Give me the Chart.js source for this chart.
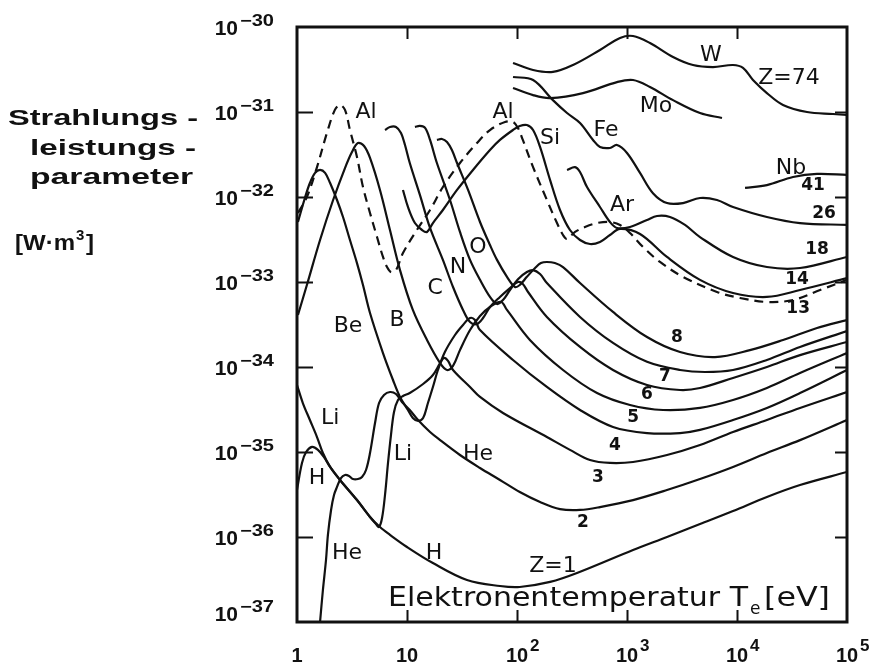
<!DOCTYPE html>
<html>
<head>
<meta charset="utf-8">
<script src="https://cdn.jsdelivr.net/npm/chart.js@4.4.1/dist/chart.umd.min.js"></script>
<style>
  html, body { margin: 0; padding: 0; background: #ffffff; }
  canvas { display: block; }
</style>
</head>
<body>
<canvas id="chart" width="877" height="664"></canvas>
<script>
// Radiation power parameter P (W·m³) versus electron temperature Te (eV)
// for coronal-equilibrium impurities, log-log axes.

// Z = 1, hydrogen
const hT = [1.0, 1.11, 1.21, 1.37, 1.55, 1.76, 2.0, 2.46, 3.51, 4.61, 5.68, 7.0, 10, 17.2, 35.1, 70, 106, 200, 351, 1135, 2310, 4610, 9200, 18700, 37400, 1e5];
const hP = [3.6e-36, 7.43e-36, 1.0e-35, 1.15e-35, 1.06e-35, 8.73e-36, 6.67e-36, 4.69e-36, 2.72e-36, 1.72e-36, 1.31e-36, 1.06e-36, 7.63e-37, 4.94e-37, 3.12e-37, 2.65e-37, 2.58e-37, 2.96e-37, 3.77e-37, 7.03e-37, 1.0e-36, 1.42e-36, 2.02e-36, 2.96e-36, 4.09e-36, 5.82e-36];

// Z = 2, helium
const heT = [1.62, 1.72, 1.835, 1.91, 2.04, 2.17, 2.31, 2.51, 2.73, 2.97, 3.23, 3.58, 3.90, 4.24, 4.61, 5.12, 5.57, 6.18, 7.0, 7.94, 9.0, 10.6, 12.6, 16.2, 20, 30.3, 46.1, 70, 106, 162, 246, 374, 568, 1135, 2310, 4610, 9200, 18700, 37400, 1e5];
const heP = [1.0e-37, 2.38e-37, 5.36e-37, 1.06e-36, 2.08e-36, 3.12e-36, 3.88e-36, 4.94e-36, 5.36e-36, 5.22e-36, 4.81e-36, 4.81e-36, 5.08e-36, 6.14e-36, 9.73e-36, 2.19e-35, 3.77e-35, 4.69e-35, 5.08e-35, 4.81e-35, 3.88e-35, 3.12e-35, 2.38e-35, 1.72e-35, 1.38e-35, 9.22e-36, 6.49e-36, 4.69e-36, 3.38e-36, 2.58e-36, 2.13e-36, 2.08e-36, 2.25e-36, 2.72e-36, 3.57e-36, 4.81e-36, 6.67e-36, 9.73e-36, 1.38e-35, 2.38e-35];

// Z = 3, lithium
const liT = [1.0, 1.13, 1.31, 1.52, 1.72, 2.0, 2.46, 3.51, 4.61, 5.23, 5.57, 5.93, 6.31, 6.72, 7.15, 7.62, 8.28, 9.19, 10.6, 14.0, 17.2, 20.0, 21.7, 23.6, 26.2, 37.4, 46.1, 74.6, 187, 303, 461, 700, 1135, 2310, 4610, 9200, 18700, 37400, 1e5];
const liP = [6.14e-35, 3.77e-35, 2.38e-35, 1.50e-35, 9.73e-36, 6.67e-36, 4.69e-36, 2.72e-36, 1.72e-36, 1.42e-36, 1.31e-36, 1.67e-36, 3.12e-36, 7.43e-36, 1.58e-35, 2.96e-35, 4.09e-35, 4.56e-35, 4.94e-35, 6.31e-35, 8.05e-35, 1.11e-34, 1.28e-34, 1.18e-34, 9.22e-35, 5.82e-35, 4.44e-35, 2.88e-35, 1.50e-35, 1.06e-35, 8.05e-36, 7.43e-36, 7.63e-36, 9.22e-36, 1.21e-35, 1.72e-35, 2.38e-35, 3.30e-35, 5.08e-35];

// Z = 4, beryllium
const beT = [1.02, 1.18, 1.31, 1.46, 1.62, 1.80, 2.0, 2.31, 2.62, 3.03, 3.51, 3.98, 4.61, 6.05, 7.46, 8.64, 10.2, 11.3, 12.6, 14.0, 15.5, 17.2, 19.1, 22.1, 27.3, 32.3, 37.4, 41.5, 46.1, 92, 187, 374, 746, 1520, 3034, 4610, 9200, 18700, 37400, 1e5];
const beP = [5.08e-33, 9.73e-33, 1.46e-32, 1.92e-32, 2.08e-32, 1.92e-32, 1.46e-32, 9.22e-33, 5.82e-33, 3.12e-33, 1.67e-33, 9.22e-34, 4.32e-34, 1.46e-34, 7.03e-35, 4.44e-35, 3.12e-35, 2.51e-35, 2.32e-35, 2.51e-35, 3.77e-35, 5.82e-35, 9.22e-35, 1.50e-34, 2.38e-34, 3.12e-34, 3.77e-34, 3.57e-34, 2.72e-34, 1.21e-34, 5.82e-35, 3.12e-35, 1.97e-35, 1.67e-35, 1.67e-35, 1.82e-35, 2.38e-35, 3.30e-35, 4.94e-35, 9.22e-35];

// Z = 5, boron
const bT = [1.02, 1.23, 1.62, 2.13, 2.73, 3.16, 3.58, 4.07, 4.61, 5.68, 7.0, 8.64, 11.3, 15.2, 20.0, 23.1, 26.2, 30.3, 37.4, 46.1, 56.8, 71.6, 81.1, 131, 262, 534, 1065, 2124, 4610, 9200, 18700, 37400, 1e5];
const bP = [4.09e-34, 9.22e-34, 3.12e-33, 9.22e-33, 2.19e-32, 3.38e-32, 4.32e-32, 3.98e-32, 2.88e-32, 1.21e-32, 4.09e-33, 1.38e-33, 4.69e-34, 2.08e-34, 1.11e-34, 9.22e-35, 1.03e-34, 1.58e-34, 2.72e-34, 3.98e-34, 5.08e-34, 5.82e-34, 4.69e-34, 2.08e-34, 9.22e-35, 4.94e-35, 3.57e-35, 3.12e-35, 3.30e-35, 4.09e-35, 5.66e-35, 8.49e-35, 1.46e-34];

// Z = 6, carbon
const cT = [6.31, 7.0, 7.94, 8.82, 9.59, 10.6, 13.1, 16.2, 21.2, 26.2, 32.3, 37.4, 43.3, 49.1, 56.8, 70, 86.3, 102, 113, 126, 187, 374, 746, 1520, 3034, 4610, 9200, 18700, 37400, 1e5];
const cP = [6.14e-32, 6.67e-32, 6.67e-32, 5.66e-32, 4.09e-32, 2.51e-32, 1.06e-32, 4.32e-33, 1.82e-33, 8.73e-34, 4.69e-34, 3.38e-34, 3.21e-34, 3.77e-34, 5.08e-34, 6.67e-34, 8.49e-34, 1.0e-33, 9.47e-34, 7.63e-34, 3.88e-34, 1.72e-34, 9.22e-35, 6.14e-35, 5.36e-35, 5.66e-35, 7.43e-35, 1.0e-34, 1.38e-34, 1.97e-34];

// Z = 7, nitrogen
const nT = [11.8, 13.1, 14.6, 16.2, 18.7, 24.6, 30.3, 37.4, 46.1, 56.8, 65.8, 74.6, 86.3, 102, 123, 140, 162, 187, 374, 746, 1520, 3034, 5117, 9200, 18700, 37400, 1e5];
const nP = [6.67e-32, 6.85e-32, 6.49e-32, 4.69e-32, 2.51e-32, 9.22e-33, 3.88e-33, 1.82e-33, 1.06e-33, 6.67e-34, 5.51e-34, 6.14e-34, 8.05e-34, 1.08e-33, 1.31e-33, 1.38e-33, 1.24e-33, 9.73e-34, 3.88e-34, 1.92e-34, 1.15e-34, 9.22e-35, 8.73e-35, 9.22e-35, 1.21e-34, 1.72e-34, 2.65e-34];

// Z = 8, oxygen
const oT = [18.7, 20.8, 23.1, 25.6, 28.5, 35.9, 46.1, 56.8, 65.8, 81.1, 95.9, 106, 123, 146, 165, 187, 221, 262, 374, 746, 1520, 3034, 6310, 13100, 26200, 53400, 1e5];
const oP = [4.69e-32, 4.81e-32, 4.44e-32, 3.57e-32, 2.51e-32, 1.21e-32, 5.08e-33, 2.72e-33, 1.82e-33, 1.15e-33, 8.73e-34, 9.22e-34, 1.15e-33, 1.46e-33, 1.67e-33, 1.72e-33, 1.67e-33, 1.50e-33, 9.73e-34, 4.44e-34, 2.25e-34, 1.50e-34, 1.31e-34, 1.58e-34, 2.08e-34, 2.88e-34, 3.57e-34];

// Z = 13, aluminium (dashed)
const alT = [1.02, 1.23, 1.52, 1.87, 2.21, 2.46, 2.73, 3.03, 3.51, 3.98, 4.61, 5.34, 6.05, 6.58, 7.15, 7.94, 9.19, 12.3, 16.2, 21.2, 30.3, 43.3, 56.8, 77.8, 92, 102, 113, 140, 187, 231, 262, 285, 337, 415, 534, 700, 864, 1065, 1398, 1995, 3230, 6577, 10650, 18700, 32300, 56900, 1e5];
const alP = [6.49e-33, 1.0e-32, 2.25e-32, 5.66e-32, 1.06e-31, 1.21e-31, 1.06e-31, 6.14e-32, 2.96e-32, 1.31e-32, 6.49e-33, 3.38e-33, 1.97e-33, 1.50e-33, 1.31e-33, 1.38e-33, 2.19e-33, 4.09e-33, 7.03e-33, 1.31e-32, 2.51e-32, 4.32e-32, 6.14e-32, 7.63e-32, 7.63e-32, 6.49e-32, 4.69e-32, 2.25e-32, 9.22e-33, 4.94e-33, 3.57e-33, 3.21e-33, 3.88e-33, 4.44e-33, 4.94e-33, 5.08e-33, 4.69e-33, 3.77e-33, 2.58e-33, 1.72e-33, 1.15e-33, 7.63e-34, 6.49e-34, 5.82e-34, 6.14e-34, 8.05e-34, 1.06e-33];

// Z = 14, silicon
const siT = [9.19, 10.2, 11.8, 13.7, 15.2, 17.2, 21.2, 28.5, 39.8, 56.8, 70, 92, 106, 123, 140, 162, 200, 246, 303, 374, 461, 568, 700, 864, 1313, 2310, 4610, 9200, 18700, 37400, 1e5];
const siP = [1.21e-32, 7.63e-33, 4.94e-33, 4.09e-33, 3.88e-33, 4.94e-33, 7.03e-33, 1.21e-32, 2.08e-32, 3.57e-32, 4.69e-32, 6.14e-32, 6.85e-32, 7.03e-32, 6.14e-32, 3.88e-32, 1.58e-32, 7.03e-33, 4.09e-33, 3.12e-33, 2.80e-33, 2.96e-33, 3.57e-33, 4.21e-33, 3.67e-33, 1.97e-33, 1.06e-33, 7.43e-34, 6.67e-34, 8.05e-34, 1.11e-33];

// Z = 18, argon
const arT = [285, 337, 374, 433, 568, 700, 811, 1065, 1520, 1875, 2460, 3367, 4610, 9200, 18700, 37400, 1e5];
const arP = [2.08e-32, 2.25e-32, 1.97e-32, 1.31e-32, 7.63e-33, 5.08e-33, 4.32e-33, 4.44e-33, 5.36e-33, 5.98e-33, 5.82e-33, 4.69e-33, 3.38e-33, 1.97e-33, 1.50e-33, 1.46e-33, 1.97e-33];

// Z = 26, iron
const feT = [92, 140, 212, 285, 374, 491, 568, 700, 811, 1000, 1313, 1722, 2310, 3230, 4610, 6577, 9200, 18700, 37400, 1e5];
const feP = [2.58e-31, 2.38e-31, 1.38e-31, 9.73e-32, 7.43e-32, 4.69e-32, 3.88e-32, 3.77e-32, 4.09e-32, 3.30e-32, 1.92e-32, 1.11e-32, 8.49e-33, 8.49e-33, 9.73e-33, 9.22e-33, 7.63e-33, 5.82e-33, 4.94e-33, 4.69e-33];

// Z = 41, niobium
const nbT = [11830, 18700, 32300, 53400, 1e5];
const nbP = [1.28e-32, 1.38e-32, 1.72e-32, 1.87e-32, 1.82e-32];

// Z = 42, molybdenum
const moT = [92, 140, 200, 398, 811, 1135, 1618, 2620, 4610, 7305];
const moP = [1.92e-31, 1.58e-31, 1.46e-31, 1.67e-31, 2.25e-31, 2.38e-31, 1.97e-31, 1.38e-31, 9.73e-32, 8.49e-32];

// Z = 74, tungsten
const wT = [92, 140, 212, 323, 568, 864, 1135, 1618, 2620, 3981, 6050, 9200, 11340, 13970, 18700, 26200, 43300, 74600, 1e5];
const wP = [3.77e-31, 3.12e-31, 2.96e-31, 3.57e-31, 5.36e-31, 7.43e-31, 7.83e-31, 6.48e-31, 4.44e-31, 3.57e-31, 3.38e-31, 3.57e-31, 3.30e-31, 2.38e-31, 1.67e-31, 1.21e-31, 1.0e-31, 9.47e-32, 9.22e-32];

// Axis decades and their tick labels (base, exponent)
const xDecades = [1, 10, 100, 1e3, 1e4, 1e5];
const xTickLabels = [['1', ''], ['10', ''], ['10', '2'], ['10', '3'], ['10', '4'], ['10', '5']];
const yDecades = [1e-30, 1e-31, 1e-32, 1e-33, 1e-34, 1e-35, 1e-36, 1e-37];
const yTickLabels = [['10', '−30'], ['10', '−31'], ['10', '−32'], ['10', '−33'], ['10', '−34'], ['10', '−35'], ['10', '−36'], ['10', '−37']];

// Curve annotations: text, temperature, power, kind
const curveLabelText = ['Al', 'Al', 'Si', 'Fe', 'Mo', 'W', 'Z=74', 'Nb', '41', '26', 'Ar', '18', '14', '13', '8', '7', '6', '5', '4', '3', '2', 'Z=1', 'H', 'He', 'H', 'Li', 'Li', 'He', 'Be', 'B', 'C', 'N', 'O'];
const curveLabelT = [4.24, 74.6, 200, 644, 1835, 5800, 29700, 31000, 49100, 61800, 901, 53400, 35100, 36000, 2850, 2215, 1520, 1135, 778, 545, 398, 212, 17.6, 2.85, 1.52, 2.0, 9.19, 44.2, 2.91, 8.11, 18.0, 29.1, 44.2];
const curveLabelP = [1e-31, 1e-31, 4.94e-32, 6.14e-32, 1.18e-31, 4.69e-31, 2.51e-31, 2.19e-32, 1.38e-32, 6.31e-33, 8.05e-33, 2.38e-33, 1.08e-33, 4.81e-34, 2.19e-34, 7.63e-35, 4.69e-35, 2.51e-35, 1.18e-35, 4.94e-36, 1.46e-36, 4.56e-37, 6.49e-37, 6.49e-37, 4.94e-36, 2.51e-35, 9.47e-36, 9.47e-36, 3.04e-34, 3.57e-34, 8.49e-34, 1.50e-33, 2.58e-33];
const curveLabelKind = ['el', 'el', 'el', 'el', 'el', 'el', 'el', 'el', 'num', 'num', 'el', 'num', 'num', 'num', 'num', 'num', 'num', 'num', 'num', 'num', 'num', 'el', 'el', 'el', 'el', 'el', 'el', 'el', 'el', 'el', 'el', 'el', 'el'];

const INK = '#111111';

function points(ts, ps) {
  return ts.map((t, i) => ({ x: t, y: ps[i] }));
}

function curve(ts, ps, dashed) {
  return {
    data: points(ts, ps),
    borderColor: INK,
    borderWidth: 2.2,
    borderDash: dashed ? [9, 6] : [],
    pointRadius: 0,
    fill: false,
    tension: 0.35
  };
}

const datasets = [
  curve(hT, hP), curve(heT, heP), curve(liT, liP), curve(beT, beP),
  curve(bT, bP), curve(cT, cP), curve(nT, nP), curve(oT, oP),
  curve(alT, alP, true), curve(siT, siP), curve(arT, arP), curve(feT, feP),
  curve(nbT, nbP), curve(moT, moP), curve(wT, wP)
];

// Draws text squeezed or stretched horizontally to a given width
function fitText(ctx, text, left, baseline, width, font) {
  ctx.font = font;
  const w = ctx.measureText(text).width;
  ctx.save();
  ctx.translate(left, baseline);
  ctx.scale(width / w, 1);
  ctx.textAlign = 'left';
  ctx.textBaseline = 'alphabetic';
  ctx.fillText(text, 0, 0);
  ctx.restore();
}

const paperPlugin = {
  id: 'paper',
  beforeDraw(chart) {
    const { ctx, width, height } = chart;
    ctx.save();
    ctx.fillStyle = '#ffffff';
    ctx.fillRect(0, 0, width, height);
    ctx.restore();
  },
  afterDatasetsDraw(chart) {
    const { ctx, chartArea: { left, right, top, bottom }, scales: { x, y } } = chart;
    ctx.save();
    ctx.strokeStyle = INK;
    ctx.fillStyle = INK;

    // frame
    ctx.lineWidth = 3;
    ctx.strokeRect(left, top, right - left, bottom - top);

    // inward ticks
    ctx.lineWidth = 2;
    ctx.beginPath();
    xDecades.slice(1, -1).forEach(v => {
      const px = Math.round(x.getPixelForValue(v)) + 0.5;
      ctx.moveTo(px, bottom); ctx.lineTo(px, bottom - 12);
      ctx.moveTo(px, top); ctx.lineTo(px, top + 12);
    });
    yDecades.slice(1, -1).forEach(v => {
      const py = Math.round(y.getPixelForValue(v)) + 0.5;
      ctx.moveTo(left, py); ctx.lineTo(left + 16, py);
      ctx.moveTo(right, py); ctx.lineTo(right - 12, py);
    });
    ctx.stroke();

    // y tick labels
    yDecades.forEach((v, i) => {
      const py = y.getPixelForValue(v);
      const base = i === yDecades.length - 1 ? py - 1 : py + 8;
      ctx.font = 'bold 21px "Liberation Sans", Arial, sans-serif';
      ctx.textAlign = 'right';
      ctx.textBaseline = 'alphabetic';
      ctx.fillText(yTickLabels[i][0], 238, base);
      fitText(ctx, yTickLabels[i][1], 240, base - 9, 34, 'bold 16px "Liberation Sans", Arial, sans-serif');
    });

    // x tick labels
    xDecades.forEach((v, i) => {
      const px = x.getPixelForValue(v);
      ctx.font = 'bold 20px "Liberation Sans", Arial, sans-serif';
      ctx.textAlign = 'center';
      ctx.textBaseline = 'alphabetic';
      ctx.fillText(xTickLabels[i][0], px, 662);
      if (xTickLabels[i][1]) {
        const w = ctx.measureText(xTickLabels[i][0]).width;
        ctx.font = 'bold 17px "Liberation Sans", Arial, sans-serif';
        ctx.textAlign = 'left';
        ctx.fillText(xTickLabels[i][1], px + w / 2 + 2, 651);
      }
    });

    // curve annotations
    curveLabelText.forEach((t, i) => {
      const px = x.getPixelForValue(curveLabelT[i]);
      const py = y.getPixelForValue(curveLabelP[i]);
      ctx.font = curveLabelKind[i] === 'num'
        ? 'bold 17px "DejaVu Sans", sans-serif'
        : '22px "DejaVu Sans", sans-serif';
      ctx.textAlign = 'center';
      ctx.textBaseline = 'middle';
      ctx.fillText(t, px, py);
    });

    // x axis title inside the plot
    fitText(ctx, 'Elektronentemperatur T', 388, 606, 360, '26px "DejaVu Sans", sans-serif');
    ctx.font = '17px "DejaVu Sans", sans-serif';
    ctx.textAlign = 'left';
    ctx.textBaseline = 'alphabetic';
    ctx.fillText('e', 750, 614);
    fitText(ctx, '[eV]', 764, 606, 66, '26px "DejaVu Sans", sans-serif');

    // y axis title
    const titleFont = 'bold 22px "Liberation Sans", Arial, sans-serif';
    fitText(ctx, 'Strahlungs -', 8, 125, 190, titleFont);
    fitText(ctx, 'leistungs -', 30, 155, 166, titleFont);
    fitText(ctx, 'parameter', 30, 184, 163, titleFont);
    fitText(ctx, '[W·m', 15, 250, 60, titleFont);
    ctx.font = 'bold 15px "Liberation Sans", Arial, sans-serif';
    ctx.textAlign = 'left';
    ctx.fillText('3', 76, 240);
    fitText(ctx, ']', 86, 250, 8, titleFont);

    ctx.restore();
  }
};

new Chart(document.getElementById('chart').getContext('2d'), {
  type: 'line',
  data: { datasets },
  options: {
    responsive: false,
    animation: false,
    devicePixelRatio: 1,
    layout: { padding: { left: 297, top: 27, right: 30, bottom: 42 } },
    plugins: { legend: { display: false }, tooltip: { enabled: false } },
    scales: {
      x: { type: 'logarithmic', min: 1, max: 1e5, display: false },
      y: { type: 'logarithmic', min: 1e-37, max: 1e-30, display: false }
    }
  },
  plugins: [paperPlugin]
});
</script>
</body>
</html>
